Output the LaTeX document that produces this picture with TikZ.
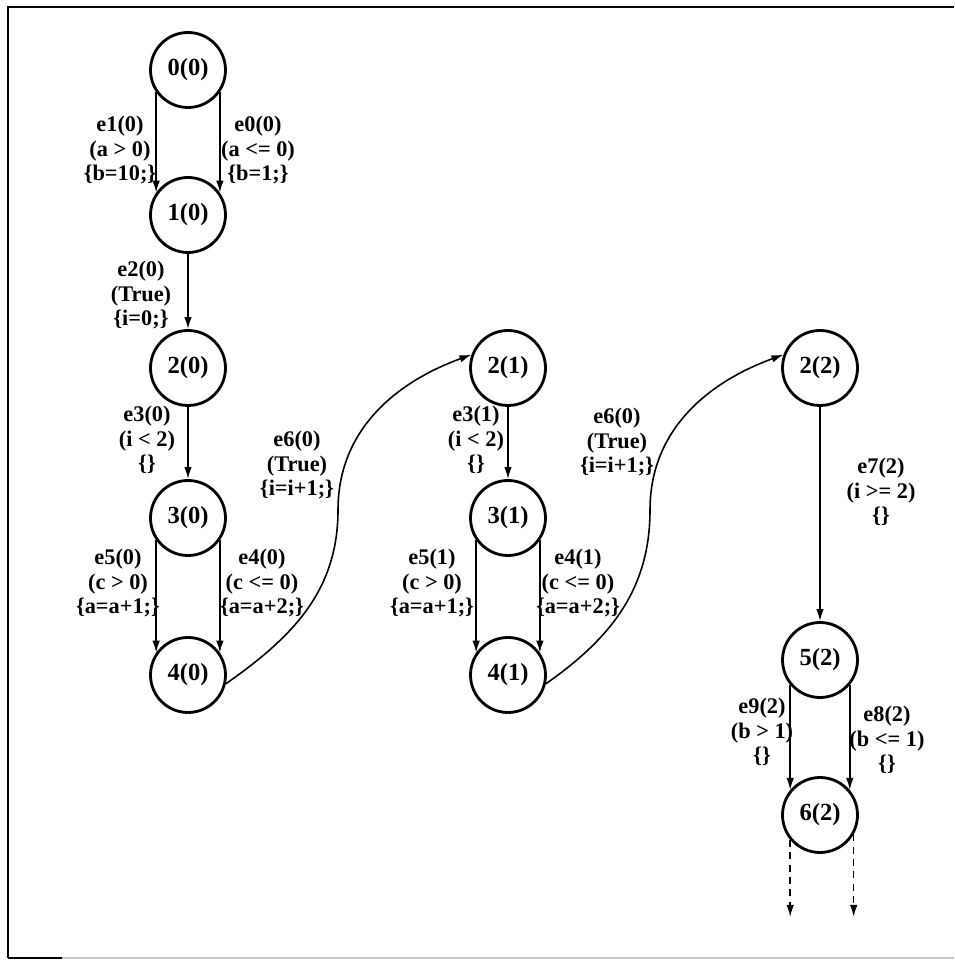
\documentclass[tikz,border=0pt]{standalone}
\usepackage{fontspec}
\setmainfont{Liberation Serif}
\usetikzlibrary{positioning, arrows.meta}

\begin{document}
\begin{tikzpicture}[
    state/.style={circle, draw, line width=1.6pt, minimum size=1.5cm,
                  inner sep=0pt, font=\fontsize{14}{16}\selectfont\bfseries},
    trans/.style={-{Latex[length=2.4mm,width=1.5mm]}, line width=0.9pt},
    pending/.style={trans, dashed, dash pattern=on 4pt off 3pt},
    elabel/.style={align=center, inner sep=0pt,
                   font=\fontsize{12.7}{14}\selectfont\bfseries},
]
\useasboundingbox (0,0) rectangle (19.08,19.2);

% --- page frame (left and top edge of the scan) ---
\draw[line width=1.3pt] (0.16,0.04) -- (0.16,19.06) -- (19.08,19.06);
\draw[line width=1.3pt] (0.16,0.04) -- (1.24,0.04);
\draw[gray!45, line width=0.6pt] (1.24,0.04) -- (19.08,0.04);

% --- iteration 0 ---
\node[state] (n00) at (3.76, 17.80) {0(0)};
\node[state] (n10) at (3.76, 14.90) {1(0)};
\node[state] (n20) at (3.76, 11.84) {2(0)};
\node[state] (n30) at (3.76,  8.84) {3(0)};
\node[state] (n40) at (3.76,  5.70) {4(0)};

% --- iteration 1 ---
\node[state] (n21) at (10.16, 11.84) {2(1)};
\node[state] (n31) at (10.16,  8.84) {3(1)};
\node[state] (n41) at (10.16,  5.70) {4(1)};

% --- iteration 2 (loop exit) ---
\node[state] (n22) at (16.40, 11.84) {2(2)};
\node[state] (n52) at (16.40,  6.00) {5(2)};
\node[state] (n62) at (16.40,  2.90) {6(2)};

% bends of the two back edges
\coordinate (bendA) at (6.76, 9.00);
\coordinate (bendB) at (13.00, 9.00);
\coordinate (dashend) at (0, 0.86);

% --- transitions ---
\draw[trans] (n00.215) -- (n10.145);
\draw[trans] (n00.325) -- (n10.35);
\draw[trans] (n10) -- (n20);
\draw[trans] (n20) -- (n30);
\draw[trans] (n30.215) -- (n40.145);
\draw[trans] (n30.325) -- (n40.35);
\draw[trans] (n40.-13) to[out=35, in=-90] (bendA) to[out=90, in=200] (n21.160);
\draw[trans] (n21) -- (n31);
\draw[trans] (n31.215) -- (n41.145);
\draw[trans] (n31.325) -- (n41.35);
\draw[trans] (n41.-13) to[out=35, in=-90] (bendB) to[out=90, in=200] (n22.160);
\draw[trans] (n22) -- (n52);
\draw[trans] (n52.220) -- (n62.140);
\draw[trans] (n52.320) -- (n62.40);
\draw[pending] (n62.220) -- (n62.220 |- dashend);
\draw[pending] (n62.330) -- (n62.330 |- dashend);

% --- edge labels: name, guard, action ---
\node[elabel] (l-e1-0) at (2.40, 16.20) {e1(0)\\(a > 0)\\\{b=10;\}};
\node[elabel] (l-e0-0) at (5.16, 16.20) {e0(0)\\(a <= 0)\\\{b=1;\}};
\node[elabel] (l-e2-0) at (2.82, 13.30) {e2(0)\\(True)\\\{i=0;\}};
\node[elabel] (l-e3-0) at (2.94, 10.40) {e3(0)\\(i < 2)\\\{\}};
\node[elabel] (l-e5-0) at (2.36,  7.54) {e5(0)\\(c > 0)\\\{a=a+1;\}};
\node[elabel] (l-e4-0) at (5.24,  7.54) {e4(0)\\(c <= 0)\\\{a=a+2;\}};
\node[elabel] (l-e6-a) at (5.94,  9.90) {e6(0)\\(True)\\\{i=i+1;\}};
\node[elabel] (l-e3-1) at (9.52, 10.40) {e3(1)\\(i < 2)\\\{\}};
\node[elabel] (l-e5-1) at (8.64,  7.54) {e5(1)\\(c > 0)\\\{a=a+1;\}};
\node[elabel] (l-e4-1) at (11.56, 7.54) {e4(1)\\(c <= 0)\\\{a=a+2;\}};
\node[elabel] (l-e6-b) at (12.34, 10.36) {e6(0)\\(True)\\\{i=i+1;\}};
\node[elabel] (l-e7-2) at (17.62,  9.36) {e7(2)\\(i >= 2)\\\{\}};
\node[elabel] (l-e9-2) at (15.24,  4.56) {e9(2)\\(b > 1)\\\{\}};
\node[elabel] (l-e8-2) at (17.74,  4.40) {e8(2)\\(b <= 1)\\\{\}};

\end{tikzpicture}
\end{document}
